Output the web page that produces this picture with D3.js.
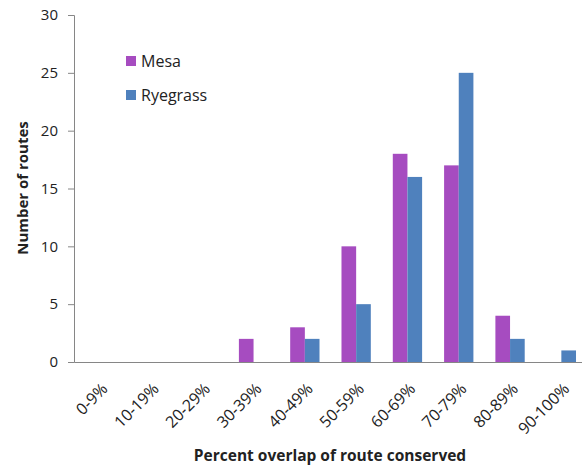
<!DOCTYPE html>
<html><head><meta charset="utf-8">
<script src="https://cdn.jsdelivr.net/npm/d3@7"></script>
<style>body{margin:0;background:#fff;} svg{display:block;} text{font-family:"Open Sans",sans-serif;fill:#222;}</style>
</head><body>
<svg id="c" width="582" height="467"></svg>
<script>
const categories = ["0-9%","10-19%","20-29%","30-39%","40-49%","50-59%","60-69%","70-79%","80-89%","90-100%"];
const mesa = [0,0,0,2,3,10,18,17,4,0];
const ryegrass = [0,0,0,0,2,5,16,25,2,1];
const seriesNames = ["Mesa","Ryegrass"];
const colors = ["#A64CC0","#4F81BD"];
const yTicks = [0,5,10,15,20,25,30];

const svg = d3.select("#c");
const pLeft = 74, pRight = 587, pTop = 15, pBottom = 362;
const x = d3.scaleBand().domain(categories).range([pLeft, pRight]).paddingInner(0).paddingOuter(0);
const y = d3.scaleLinear().domain([0,30]).range([pBottom, pTop]);

// bars
const data = [mesa, ryegrass];
const bw = x.bandwidth()/3.5;
seriesNames.forEach((s,i)=>{
  svg.append("g").selectAll("rect").data(categories).join("rect")
    .attr("x", c => x(c) + x.bandwidth()/2 - bw + i*bw)
    .attr("width", bw)
    .attr("y", (c,j) => y(data[i][j]))
    .attr("height", (c,j) => y(0) - y(data[i][j]))
    .attr("fill", colors[i]);
});

// y axis
const yAxis = svg.append("g").attr("transform",`translate(${pLeft},0)`)
  .call(d3.axisLeft(y).tickValues(yTicks).tickSize(6).tickPadding(10));
yAxis.select(".domain").attr("stroke","#868686");
yAxis.selectAll(".tick line").attr("stroke","#868686");
yAxis.selectAll(".tick text").attr("font-size",15).attr("font-family","Open Sans").attr("fill","#222");

// x axis
const xAxis = svg.append("g").attr("transform",`translate(0,${pBottom})`)
  .call(d3.axisBottom(x).tickSize(0).tickSizeOuter(0).tickPadding(0));
xAxis.select(".domain").attr("stroke","#868686");
xAxis.selectAll(".tick text")
  .attr("font-size",16).attr("font-family","Open Sans").attr("fill","#222")
  .attr("text-anchor","end").attr("dy","0.35em")
  .attr("transform","translate(5,24) rotate(-45)");

// axis titles
svg.append("text").attr("x",330).attr("y",461).attr("text-anchor","middle")
  .attr("font-size",15.5).attr("font-weight","bold").text("Percent overlap of route conserved");
svg.append("text").attr("transform","translate(28,188) rotate(-90)").attr("text-anchor","middle")
  .attr("font-size",15).attr("font-weight","bold").text("Number of routes");

// legend
seriesNames.forEach((s,i)=>{
  const g = svg.append("g").attr("transform",`translate(126,${56 + i*34})`);
  g.append("rect").attr("width",10).attr("height",10).attr("fill",colors[i]);
  g.append("text").attr("x",15).attr("y",11).attr("font-size",16).text(s);
});
</script>
</body></html>
